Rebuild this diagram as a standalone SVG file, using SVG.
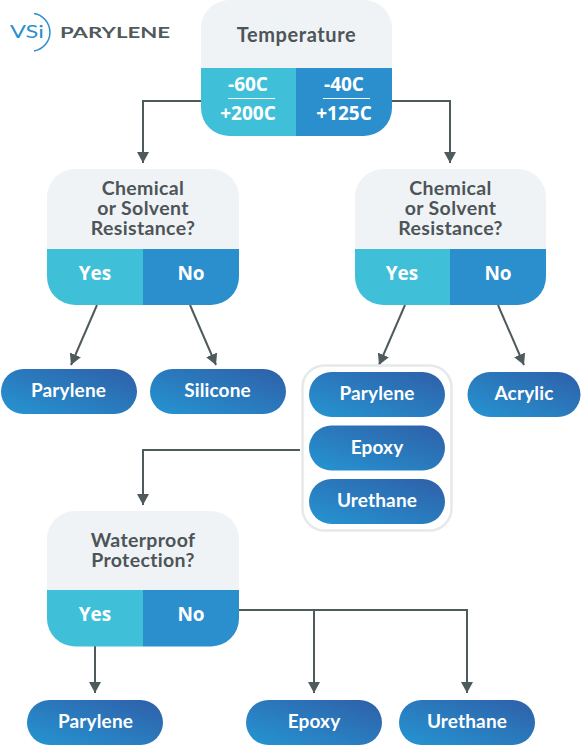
<svg xmlns="http://www.w3.org/2000/svg" width="581" height="745" viewBox="0 0 581 745">
<style>
.q{font-family:"Lato","Open Sans",sans-serif;font-weight:700;font-size:19.5px;letter-spacing:.35px;fill:#4d5558;text-anchor:middle}
.a{font-family:"Open Sans",sans-serif;font-weight:700;font-size:19px;fill:#fff;text-anchor:middle}
.p{font-family:"Lato","Open Sans",sans-serif;font-weight:700;font-size:19px;letter-spacing:.15px;fill:#fff;text-anchor:middle}
.head{fill:#f0f3f6}.y{fill:#40c0d8}.n{fill:#2b8fce}
.c{fill:none;stroke:#4f5a5d;stroke-width:2}
</style>
<defs>
<linearGradient id="g" x1="0" y1="1" x2="1" y2="0"><stop offset="0" stop-color="#2595d2"/><stop offset="1" stop-color="#2f5fa8"/></linearGradient>
<marker id="ah" markerUnits="userSpaceOnUse" markerWidth="11" markerHeight="12" refX="11" refY="6" orient="auto"><path d="M0 0L11 6L0 12Z" fill="#4f5a5d"/></marker>
<rect id="pill" width="136" height="45" rx="22.5" fill="url(#g)"/>
</defs>
<g id="connectors">
<path class="c" d="M201 101H143V163" marker-end="url(#ah)"/>
<path class="c" d="M392 101H450V163" marker-end="url(#ah)"/>
<path class="c" d="M97 305L71 365" marker-end="url(#ah)"/>
<path class="c" d="M190 305L216 365" marker-end="url(#ah)"/>
<path class="c" d="M405 305L379 365" marker-end="url(#ah)"/>
<path class="c" d="M498 305L524 365" marker-end="url(#ah)"/>
<path class="c" d="M300 450H143V505" marker-end="url(#ah)"/>
<path class="c" d="M95 646V693" marker-end="url(#ah)"/>
<path class="c" d="M239 610H467V693" marker-end="url(#ah)"/>
<path class="c" d="M314 610V693" marker-end="url(#ah)"/>
</g>
<g id="logo">
<text x="10" y="38" textLength="34" lengthAdjust="spacingAndGlyphs" style="font-family:'Lato',sans-serif;font-size:17px;fill:#2b8fce">VSi</text>
<path d="M34 13.500A19 19 0 0 1 34 51" fill="none" stroke="#2b8fce" stroke-width="1.500"/>
<text x="60" y="37.500" textLength="110" lengthAdjust="spacingAndGlyphs" style="font-family:'Lato',sans-serif;font-weight:700;font-size:15.500px;fill:#4f5a5d">PARYLENE</text>
</g>
<g id="temperature">
<path class="head" d="M201 68V28A28 28 0 0 1 229 0H364A28 28 0 0 1 392 28V68Z"/>
<path class="y" d="M201 68H296V136H229A28 28 0 0 1 201 108Z"/>
<path class="n" d="M296 68H392V108A28 28 0 0 1 364 136H296Z"/>
<text class="q" x="296.500" y="42" style="font-size:20px;letter-spacing:.6px">Temperature</text>
<text class="a" x="248" y="91">-60C</text>
<path d="M228 98.500H275M323 98.500H370" stroke="#fff" stroke-width="1"/>
<text class="a" x="248" y="120">+200C</text>
<text class="a" x="344" y="91">-40C</text>
<text class="a" x="344" y="120">+125C</text>
</g>
<g id="q-left">
<path class="head" d="M47 249V197A28 28 0 0 1 75 169H211A28 28 0 0 1 239 197V249Z"/>
<path class="y" d="M47 249H143V305H75A28 28 0 0 1 47 277Z"/>
<path class="n" d="M143 249H239V277A28 28 0 0 1 211 305H143Z"/>
<text class="q" y="195"><tspan x="143">Chemical</tspan><tspan x="143" dy="20">or Solvent</tspan><tspan x="143" dy="20">Resistance?</tspan></text>
<text class="a" x="95" y="280">Yes</text><text class="a" x="191" y="280">No</text>
</g>
<g id="q-right">
<path class="head" d="M355 249V197A28 28 0 0 1 383 169H518A28 28 0 0 1 546 197V249Z"/>
<path class="y" d="M355 249H450V305H383A28 28 0 0 1 355 277Z"/>
<path class="n" d="M450 249H546V277A28 28 0 0 1 518 305H450Z"/>
<text class="q" y="195"><tspan x="450.500">Chemical</tspan><tspan x="450.500" dy="20">or Solvent</tspan><tspan x="450.500" dy="20">Resistance?</tspan></text>
<text class="a" x="402" y="280">Yes</text><text class="a" x="498" y="280">No</text>
</g>
<g id="q-water">
<path class="head" d="M47 590V539A28 28 0 0 1 75 511H211A28 28 0 0 1 239 539V590Z"/>
<path class="y" d="M47 590H143V646.500H75A28 28 0 0 1 47 618.500Z"/>
<path class="n" d="M143 590H239V618.500A28 28 0 0 1 211 646.500H143Z"/>
<text class="q" y="547"><tspan x="143">Waterproof</tspan><tspan x="143" dy="20">Protection?</tspan></text>
<text class="a" x="95" y="621">Yes</text><text class="a" x="191" y="621">No</text>
</g>
<g id="group-box"><rect x="302.500" y="365.500" width="149" height="165" rx="22" fill="#fff" stroke="#e6e9e9" stroke-width="2.500"/></g>
<g id="p1"><use href="#pill" x="1" y="369"/><text class="p" x="68.500" y="397">Parylene</text></g>
<g id="p2"><use href="#pill" x="150" y="369"/><text class="p" x="217.500" y="397">Silicone</text></g>
<g id="p3"><use href="#pill" x="309" y="372"/><text class="p" x="377" y="400">Parylene</text></g>
<g id="p4"><use href="#pill" x="309" y="425.500"/><text class="p" x="377" y="454">Epoxy</text></g>
<g id="p5"><use href="#pill" x="309" y="479"/><text class="p" x="377" y="507">Urethane</text></g>
<g id="p6"><rect x="467.500" y="372" width="113" height="45" rx="22.500" fill="url(#g)"/><text class="p" x="524" y="400">Acrylic</text></g>
<g id="p7"><use href="#pill" x="27" y="700"/><text class="p" x="95.500" y="728">Parylene</text></g>
<g id="p8"><use href="#pill" x="246" y="700"/><text class="p" x="314" y="728">Epoxy</text></g>
<g id="p9"><use href="#pill" x="399" y="700"/><text class="p" x="467" y="728">Urethane</text></g>
</svg>
